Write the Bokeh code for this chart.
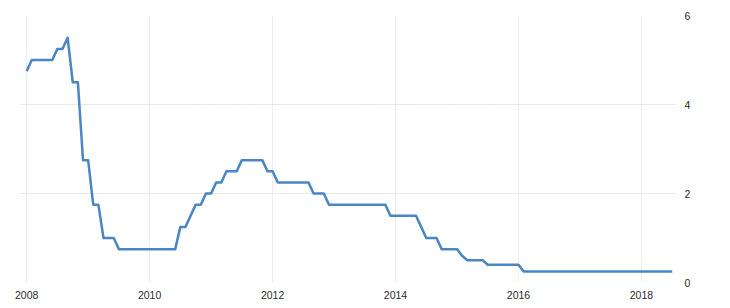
from bokeh.plotting import figure
from bokeh.models import LinearAxis, FixedTicker, Range1d, Grid
from bokeh.embed import file_html
from bokeh.resources import INLINE

start_year = 2008
# monthly values, Jan 2008 .. Jul 2018
rates = [
    # 2008
    4.75, 5.0, 5.0, 5.0, 5.0, 5.0, 5.25, 5.25, 5.5, 4.5, 4.5, 2.75,
    # 2009
    2.75, 1.75, 1.75, 1.0, 1.0, 1.0, 0.75, 0.75, 0.75, 0.75, 0.75, 0.75,
    # 2010
    0.75, 0.75, 0.75, 0.75, 0.75, 0.75, 1.25, 1.25, 1.5, 1.75, 1.75, 2.0,
    # 2011
    2.0, 2.25, 2.25, 2.5, 2.5, 2.5, 2.75, 2.75, 2.75, 2.75, 2.75, 2.5,
    # 2012
    2.5, 2.25, 2.25, 2.25, 2.25, 2.25, 2.25, 2.25, 2.0, 2.0, 2.0, 1.75,
    # 2013
    1.75, 1.75, 1.75, 1.75, 1.75, 1.75, 1.75, 1.75, 1.75, 1.75, 1.75, 1.5,
    # 2014
    1.5, 1.5, 1.5, 1.5, 1.5, 1.25, 1.0, 1.0, 1.0, 0.75, 0.75, 0.75,
    # 2015
    0.75, 0.6, 0.5, 0.5, 0.5, 0.5, 0.4, 0.4, 0.4, 0.4, 0.4, 0.4,
    # 2016
    0.4, 0.25, 0.25, 0.25, 0.25, 0.25, 0.25, 0.25, 0.25, 0.25, 0.25, 0.25,
    # 2017
    0.25, 0.25, 0.25, 0.25, 0.25, 0.25, 0.25, 0.25, 0.25, 0.25, 0.25, 0.25,
    # 2018
    0.25, 0.25, 0.25, 0.25, 0.25, 0.25, 0.25,
]
x_ticks = [2008, 2010, 2012, 2014, 2016, 2018]
y_ticks = [0, 2, 4, 6]

xs = [start_year + i / 12 for i in range(len(rates))]

p = figure(width=730, height=308, output_backend="svg", toolbar_location=None,
           x_range=Range1d(2007.9, 2018.57), y_range=Range1d(0, 6),
           min_border_left=20, min_border_right=54, min_border_top=15,
           min_border_bottom=26, y_axis_location=None)
p.outline_line_color = None
p.background_fill_color = "white"
p.border_fill_color = "white"

p.line(xs, rates, line_color="#4a86c4", line_width=2.5, line_join="round")

p.xaxis.ticker = FixedTicker(ticks=x_ticks)
p.xaxis.axis_line_color = None
p.xaxis.major_tick_line_color = None
p.xaxis.minor_tick_line_color = None
p.xaxis.major_label_standoff = 2
p.xaxis.major_label_text_font = "Liberation Sans"
p.xaxis.major_label_text_font_size = "10.5px"
p.xaxis.major_label_text_color = "#2a2a2a"

yaxis = LinearAxis(ticker=FixedTicker(ticks=y_ticks))
yaxis.axis_line_color = None
yaxis.major_tick_line_color = None
yaxis.minor_tick_line_color = None
yaxis.major_label_standoff = 2
yaxis.major_label_text_font = "Liberation Sans"
yaxis.major_label_text_font_size = "10.5px"
yaxis.major_label_text_color = "#2a2a2a"
p.add_layout(yaxis, "right")

p.xgrid.ticker = FixedTicker(ticks=x_ticks)
p.xgrid.grid_line_color = "#dddddd"
p.xgrid.grid_line_dash = "1 1"
p.ygrid.grid_line_color = None

yg = Grid(dimension=1, ticker=FixedTicker(ticks=y_ticks), grid_line_color="#d0d0d0",
          grid_line_dash="1 1")
p.add_layout(yg)

open("out.html", "w").write(file_html(p, INLINE))
